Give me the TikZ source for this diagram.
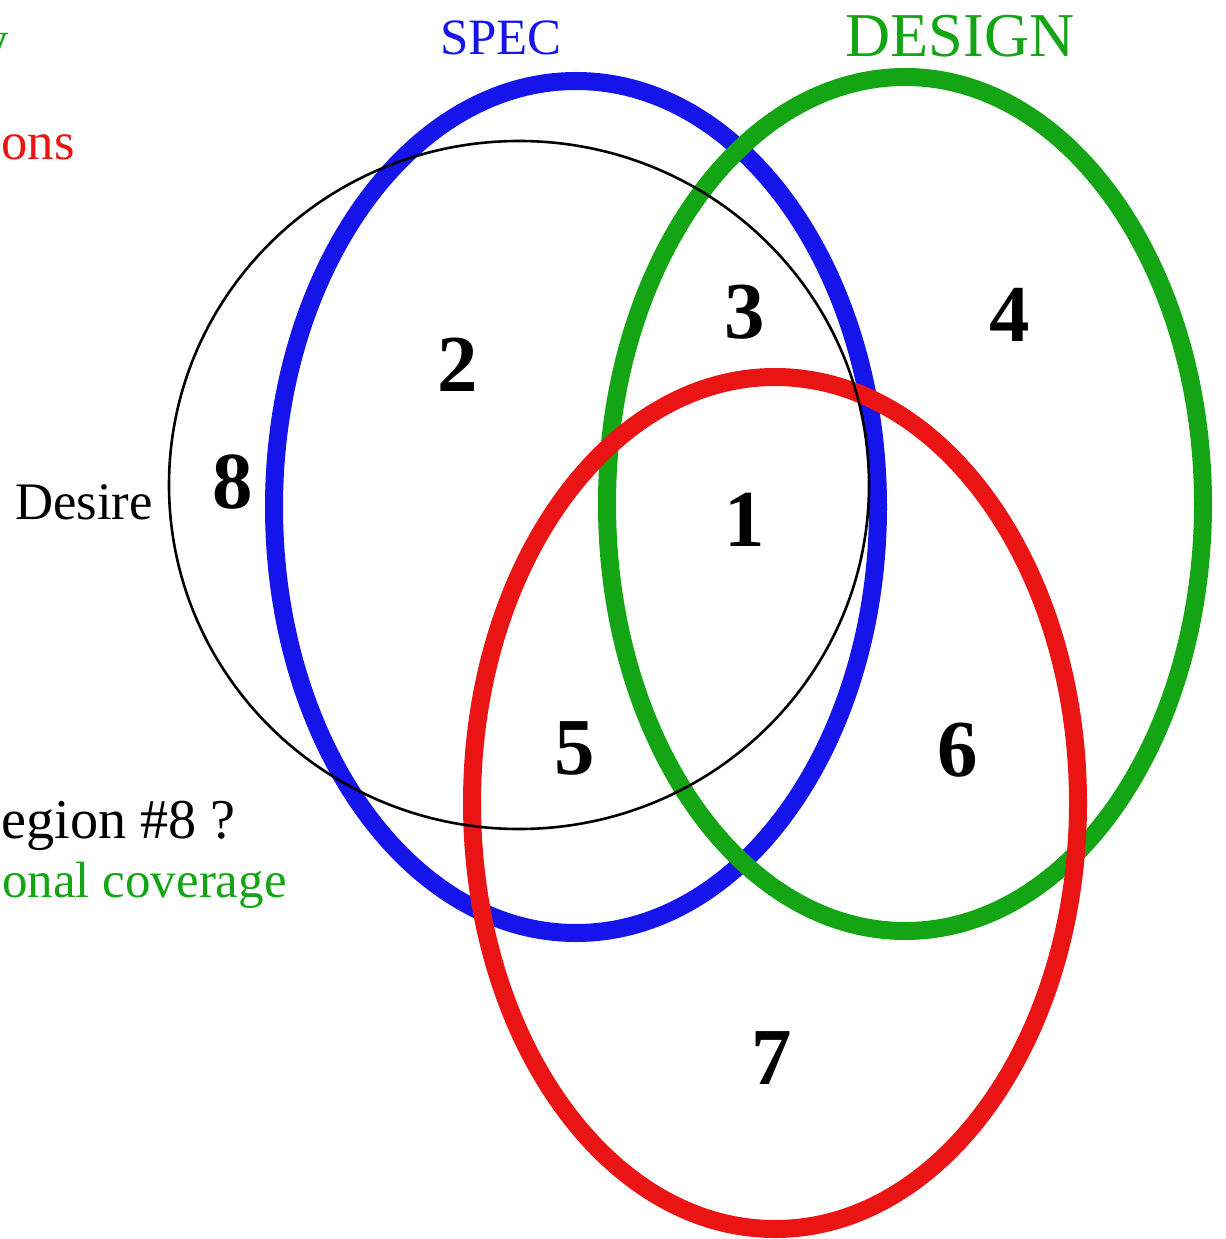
\documentclass[tikz,border=0pt]{standalone}
\usepackage{fontspec}
\setmainfont{Liberation Serif}
\begin{document}
\begin{tikzpicture}[x=0.02cm,y=-0.02cm,
  ring/.style={line width=18*0.02cm},
  num/.style={font=\fontsize{46}{50}\selectfont\bfseries, inner sep=0pt},
  lbl/.style={inner sep=0pt}]
\definecolor{vblue}{RGB}{20,20,235}
\definecolor{vgreen}{RGB}{20,165,20}
\definecolor{vred}{RGB}{235,20,20}
\useasboundingbox (0,0) rectangle (1225,1239);
\clip (0,0) rectangle (1225,1239);
% ellipses
\draw[ring, vblue] (576,507) ellipse [x radius=302, y radius=426];
\draw[ring, vgreen] (905,504) ellipse [x radius=298, y radius=427];
\draw[ring, vred] (775,803) ellipse [x radius=303, y radius=426];
\draw[line width=2.6*0.02cm, black] (519,485) ellipse [x radius=350, y radius=344];
% titles
\node[lbl, text=vblue, font=\fontsize{29}{32}\selectfont] (spec) at (501,38) {SPEC};
\node[lbl, text=vgreen, font=\fontsize{35.5}{38}\selectfont] (design) at (960,36) {DESIGN};
% left side clipped texts
\node[lbl, text=vgreen, font=\fontsize{30}{33}\selectfont, anchor=base east] (ytxt) at (9,58) {y};
\node[lbl, text=vred, font=\fontsize{30}{33}\selectfont, anchor=base west] (ons) at (1,160) {ons};
\node[lbl, font=\fontsize{30}{33}\selectfont, anchor=east] (desire) at (153,502) {Desire};
\node[lbl, font=\fontsize{32}{35}\selectfont, anchor=base east] (region) at (236,838) {egion \#8 ?};
\node[lbl, text=vgreen, font=\fontsize{29}{32}\selectfont, anchor=base east] (cov) at (287,897) {onal coverage};
% region numbers
\node[num] (n1) at (745,520) {1};
\node[num] (n2) at (458,365) {2};
\node[num] (n3) at (745,312) {3};
\node[num] (n4) at (1010,315) {4};
\node[num] (n5) at (575,748) {5};
\node[num] (n6) at (958,750) {6};
\node[num] (n7) at (772,1058) {7};
\node[num] (n8) at (233,482) {8};
\end{tikzpicture}
\end{document}
